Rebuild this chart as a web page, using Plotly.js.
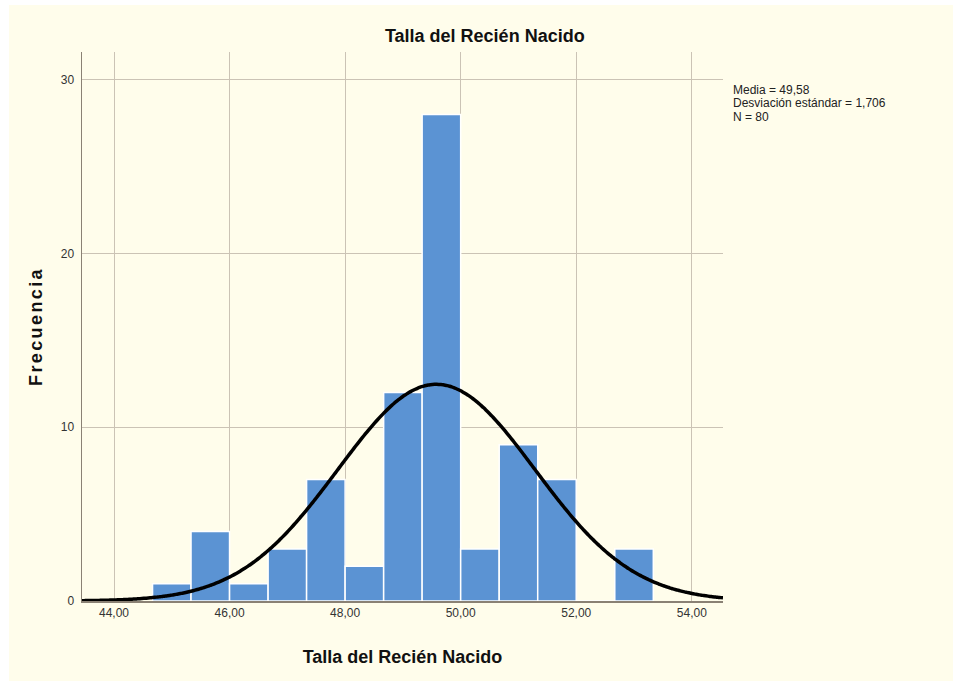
<!DOCTYPE html>
<html>
<head>
<meta charset="utf-8">
<script src="https://cdn.plot.ly/plotly-3.0.1.min.js"></script>
<style>
  html, body { margin: 0; padding: 0; background: #ffffff; overflow: hidden; }
  #chart { position: absolute; left: 9px; top: 5px; width: 944px; height: 676px; }
  /* widen the vertical axis title */
  #chart .ytitle { letter-spacing: 2.4px; }
</style>
</head>
<body>
<div id="chart"></div>
<script>
// Histogram bins of newborn length (cm): lower edge of each bin and its count
const binLower = [44.667, 45.333, 46.000, 46.667, 47.333, 48.000, 48.667,
                  49.333, 50.000, 50.667, 51.333, 52.000, 52.667];
const binWidth = 0.6667;
const counts   = [1, 4, 1, 3, 7, 2, 12, 28, 3, 9, 7, 0, 3];

// Summary statistics shown beside the plot
const media = 49.58;
const desviacion = 1.706;
const n = 80;

const xTicks = [44, 46, 48, 50, 52, 54];
const yTicks = [0, 10, 20, 30];

const xRange = [43.446, 54.54];
const yRange = [0, 31.6];

const binCenters = binLower.map(v => v + binWidth / 2);

// Fitted normal curve scaled to the histogram (N * bin width * density)
const curveX = [];
const curveY = [];
const steps = 300;
for (let i = 0; i <= steps; i++) {
  const x = xRange[0] + (xRange[1] - xRange[0]) * i / steps;
  const z = (x - media) / desviacion;
  curveX.push(x);
  curveY.push(n * binWidth * Math.exp(-0.5 * z * z) / (desviacion * Math.sqrt(2 * Math.PI)));
}

const font = 'Liberation Sans, Arial, sans-serif';
const cream = '#fffdeb';

const traces = [
  {
    type: 'bar',
    x: binCenters,
    y: counts,
    width: binWidth,
    marker: { color: '#5b93d3', line: { color: '#ffffff', width: 1.5 } },
    hoverinfo: 'x+y'
  },
  {
    type: 'scatter',
    mode: 'lines',
    x: curveX,
    y: curveY,
    line: { color: '#000000', width: 3.5, shape: 'spline' },
    hoverinfo: 'skip'
  }
];

// Statistics block, one line per annotation for tight line spacing
const statLines = [
  'Media = ' + media.toFixed(2).replace('.', ','),
  'Desviación estándar = ' + desviacion.toFixed(3).replace('.', ','),
  'N = ' + n
];
const statY = [0.9308, 0.9066, 0.8822];
const statAnnotations = statLines.map((t, i) => ({
  xref: 'paper', yref: 'paper',
  x: 1.012, y: statY[i],
  xanchor: 'left', yanchor: 'middle', align: 'left',
  showarrow: false,
  text: t,
  font: { family: font, size: 12, color: '#222222' }
}));

const layout = {
  width: 944,
  height: 676,
  paper_bgcolor: cream,
  plot_bgcolor: cream,
  showlegend: false,
  separators: ',.',
  margin: { l: 73, r: 230, t: 47, b: 80 },
  font: { family: font, color: '#222222', size: 12 },
  title: {
    text: '<b>Talla del Recién Nacido</b>',
    font: { family: font, size: 18, color: '#111111' },
    x: 0.504, xref: 'container', xanchor: 'center',
    y: 0.955, yref: 'container', yanchor: 'middle'
  },
  xaxis: {
    range: xRange,
    tickvals: xTicks,
    tickformat: '.2f',
    showgrid: true,
    gridcolor: '#cbc3b5',
    gridwidth: 1,
    zeroline: false,
    showline: true,
    linecolor: '#8a8174',
    linewidth: 1.5,
    ticks: '',
    tickfont: { family: font, size: 12, color: '#333333' },
    title: {
      text: '<b>Talla del Recién Nacido</b>',
      font: { family: font, size: 18, color: '#111111' },
      standoff: 31
    }
  },
  yaxis: {
    range: yRange,
    tickvals: yTicks,
    showgrid: true,
    gridcolor: '#cbc3b5',
    gridwidth: 1,
    zeroline: false,
    showline: true,
    linecolor: '#8a8174',
    linewidth: 1.5,
    ticks: '',
    ticklabelstandoff: 4,
    tickfont: { family: font, size: 12, color: '#333333' },
    title: {
      text: '<b>Frecuencia</b>',
      font: { family: font, size: 18, color: '#111111' },
      standoff: 13
    }
  },
  annotations: statAnnotations
};

Plotly.newPlot('chart', traces, layout, { displayModeBar: false, staticPlot: true });
</script>
</body>
</html>
